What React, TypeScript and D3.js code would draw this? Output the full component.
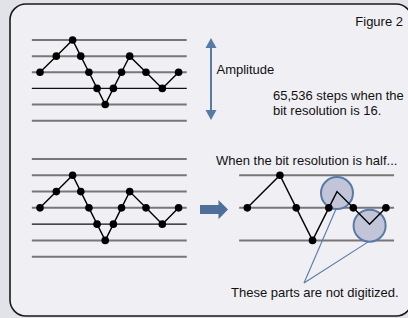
import React from 'react';
import * as d3 from 'd3';

// full resolution waveform (time step, quantisation level)
const sampleT = [0, 2, 4, 5, 6, 7, 8, 9, 10, 11, 13, 15, 17];
const sampleLevel = [2, 1, 0, 1, 2, 3, 4, 3, 2, 1, 2, 3, 2];
const topLevels = [0, 1, 2, 3, 4, 5];
const bottomLevels = [-1, 0, 1, 2, 3, 4, 5];
const blackLevel = 3;

// half resolution waveform
const halfT = [0, 4, 6, 8, 10, 11, 13, 15, 17];
const halfLevel = [2, 0, 2, 4, 2, 1, 2, 3, 2];
const halfDigitized = [1, 1, 1, 1, 1, 0, 1, 0, 1];
const halfLevels = [0, 2, 4];
const missedT = [11, 15];
const missedLevel = [1, 3];

const FONT = "'Liberation Sans', Arial, Helvetica, sans-serif";
const W = 408;
const H = 318;

type Pt = [number, number];

export default function App() {
  const xLeft = d3.scaleLinear().domain([0, 17]).range([40, 178.6]);
  const xRight = d3.scaleLinear().domain([0, 17]).range([247.3, 385.9]);
  const yTop = d3.scaleLinear().domain([0, 5]).range([40, 120.7]);
  const yBot = d3.scaleLinear().domain([0, 5]).range([175.3, 256.7]);
  const line = d3.line<Pt>();

  const wave = (x: d3.ScaleLinear<number, number>, y: d3.ScaleLinear<number, number>, ts: number[], ls: number[]) =>
    ts.map((t, i) => [x(t), y(ls[i])] as Pt);

  const topPts = wave(xLeft, yTop, sampleT, sampleLevel);
  const botPts = wave(xLeft, yBot, sampleT, sampleLevel);
  const halfPts = wave(xRight, yBot, halfT, halfLevel);

  const gridLines = (x: d3.ScaleLinear<number, number>, y: d3.ScaleLinear<number, number>, levels: number[], dark: boolean) =>
    levels.map(l => (
      <line
        key={l}
        x1={x(-1)}
        x2={x(18)}
        y1={y(l)}
        y2={y(l)}
        stroke={dark && l === blackLevel ? '#111' : '#777'}
        strokeWidth={dark && l === blackLevel ? 1.4 : 2}
      />
    ));

  const dots = (pts: Pt[], keep?: number[]) =>
    pts.map((p, i) => (keep && !keep[i] ? null : <circle key={i} cx={p[0]} cy={p[1]} r={3.8} fill="#000" />));

  const r = 16;
  const circ = missedT.map((t, i) => [xRight(t), yBot(missedLevel[i]) + 1.5] as Pt);
  const apex: Pt = [304, 283];

  const blue = '#587aa6';
  const ax = 211;
  const a0 = 38;
  const a1 = 120;

  return (
    <div style={{ position: 'fixed', left: 0, top: 0, width: W, height: H }}>
      <svg width={W} height={H} style={{ display: 'block', fontFamily: FONT }}>
        <rect x={0} y={0} width={W} height={H} fill="#e2e3e9" />
        <rect x={10} y={4} width={402} height={312} rx={16} fill="#f0eff3" stroke="#1a1a1a" strokeWidth={1.6} />

        {gridLines(xLeft, yTop, topLevels, true)}
        {gridLines(xLeft, yBot, bottomLevels, true)}
        {gridLines(xRight, yBot, halfLevels, false)}

        {circ.map((c, i) => (
          <circle key={i} cx={c[0]} cy={c[1]} r={r} fill="#c2c5d8" stroke={blue} strokeWidth={2} />
        ))}

        <path d={line(topPts) ?? ''} fill="none" stroke="#000" strokeWidth={1.4} />
        <path d={line(botPts) ?? ''} fill="none" stroke="#000" strokeWidth={1.4} />
        <path d={line(halfPts) ?? ''} fill="none" stroke="#000" strokeWidth={1.4} />
        {dots(topPts)}
        {dots(botPts)}
        {dots(halfPts, halfDigitized)}

        {circ.map((c, i) => (
          <line key={i} x1={apex[0]} y1={apex[1]} x2={c[0] - 1} y2={c[1] + r} stroke={blue} strokeWidth={1.1} />
        ))}

        {/* amplitude arrow */}
        <line x1={ax} x2={ax} y1={a0 + 8} y2={a1 - 8} stroke={blue} strokeWidth={2} />
        <path d={`M${ax},${a0}L${ax + 5.5},${a0 + 10}L${ax - 5.5},${a0 + 10}Z`} fill={blue} />
        <path d={`M${ax},${a1}L${ax + 5.5},${a1 - 10}L${ax - 5.5},${a1 - 10}Z`} fill={blue} />

        {/* block arrow */}
        <path d="M200,205L218.5,205L218.5,200L228,209.5L218.5,219.3L218.5,214L200,214Z" fill="#4f6f9b" />

        <g fontSize={13} fill="#111">
          <text x={403} y={26} textAnchor="end">Figure 2</text>
          <text x={216.5} y={74}>Amplitude</text>
          <text x={273} y={100}>65,536 steps when the</text>
          <text x={273} y={115}>bit resolution is 16.</text>
          <text x={216} y={165}>When the bit resolution is half...</text>
          <text x={231} y={297}>These parts are not digitized.</text>
        </g>
      </svg>
    </div>
  );
}
